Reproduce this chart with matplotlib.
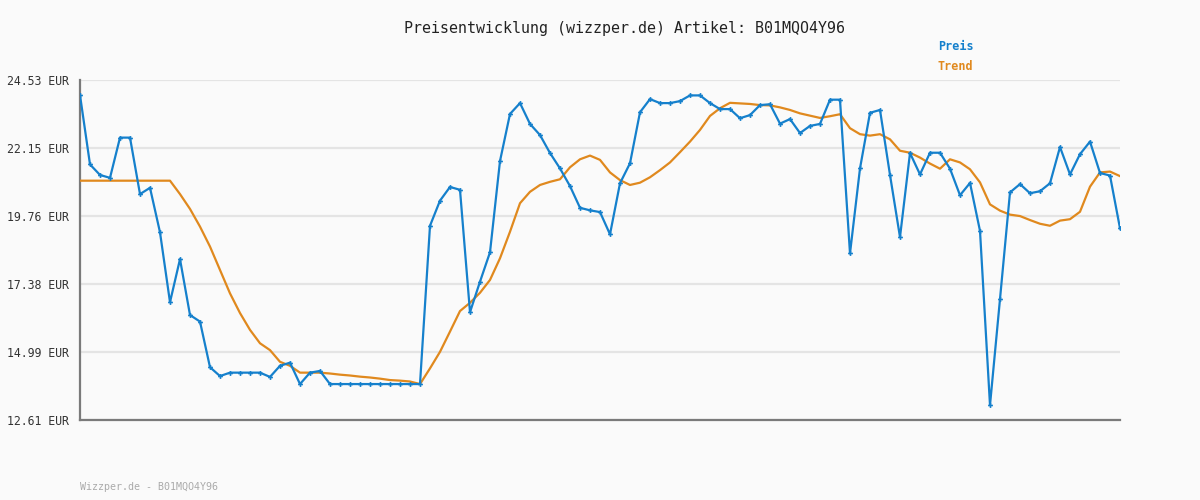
import matplotlib
matplotlib.use("Agg")
import matplotlib.pyplot as plt

# Preis (EUR), ein Wert pro Messpunkt
preis = [24.00, 21.57, 21.20, 21.10, 22.51, 22.51, 20.53, 20.75, 19.19, 16.74,
         18.25, 16.29, 16.06, 14.46, 14.15, 14.27, 14.27, 14.27, 14.27, 14.12,
         14.51, 14.62, 13.87, 14.27, 14.33, 13.87, 13.87, 13.87, 13.87, 13.87,
         13.87, 13.87, 13.87, 13.87, 13.87, 19.42, 20.30, 20.78, 20.68, 16.39,
         17.46, 18.49, 21.69, 23.34, 23.72, 22.99, 22.60, 21.97, 21.43, 20.81,
         20.05, 19.96, 19.90, 19.12, 20.91, 21.61, 23.40, 23.86, 23.72, 23.72,
         23.79, 23.99, 23.99, 23.72, 23.51, 23.51, 23.19, 23.30, 23.65, 23.68,
         23.00, 23.16, 22.67, 22.92, 22.99, 23.84, 23.84, 18.45, 21.43, 23.38,
         23.48, 21.20, 19.02, 21.97, 21.22, 21.98, 21.98, 21.42, 20.49, 20.92,
         19.24, 13.13, 16.85, 20.59, 20.88, 20.56, 20.63, 20.91, 22.18, 21.22,
         21.93, 22.37, 21.27, 21.18, 19.33]

trend = [21.00, 21.00, 21.00, 21.00, 21.00, 21.00, 21.00, 21.00, 21.00, 21.00,
         20.53, 20.01, 19.39, 18.69, 17.87, 17.05, 16.36, 15.77, 15.30, 15.06,
         14.65, 14.51, 14.27, 14.27, 14.27, 14.24, 14.20, 14.17, 14.13, 14.10,
         14.06, 14.01, 13.99, 13.96, 13.87, 14.42, 15.00, 15.71, 16.43, 16.72,
         17.07, 17.52, 18.28, 19.21, 20.21, 20.61, 20.85, 20.96, 21.05, 21.47,
         21.75, 21.88, 21.73, 21.29, 21.02, 20.85, 20.93, 21.12, 21.37, 21.64,
         22.00, 22.37, 22.78, 23.27, 23.54, 23.73, 23.71, 23.69, 23.65, 23.64,
         23.57, 23.48, 23.36, 23.28, 23.20, 23.26, 23.33, 22.84, 22.63, 22.58,
         22.63, 22.45, 22.05, 21.98, 21.81, 21.60, 21.42, 21.75, 21.64, 21.40,
         20.94, 20.17, 19.95, 19.81, 19.76, 19.62, 19.49, 19.42, 19.60, 19.65,
         19.91, 20.79, 21.29, 21.32, 21.16]

y_ticks = [12.61, 14.99, 17.38, 19.76, 22.15, 24.53]
artikel = "B01MQO4Y96"

blau = "#1580cc"
orange = "#e0891e"
mono = "DejaVu Sans Mono"

fig = plt.figure(figsize=(12, 5), dpi=100, facecolor="#fafafa")
ax = fig.add_axes([80 / 1200, 80 / 500, 1040 / 1200, 340 / 500])
ax.set_facecolor("#fafafa")

x = list(range(len(preis)))
ax.plot(x, trend, color=orange, lw=1.6, zorder=3)
ax.plot(x, preis, color=blau, lw=1.6, marker="P", ms=3.5, mew=0, zorder=4)

ax.set_xlim(0, len(preis) - 1)
ax.set_ylim(y_ticks[0], y_ticks[-1])
ax.set_yticks(y_ticks)
ax.set_yticklabels([f"{v:.2f} EUR" for v in y_ticks], family=mono,
                   fontsize=8.3, color="#333333")
ax.set_xticks([])
ax.tick_params(axis="y", length=0, pad=8)
ax.grid(axis="y", color="#e4e4e4", lw=1.6, zorder=0)
ax.set_axisbelow(True)
for s in ("top", "right"):
    ax.spines[s].set_visible(False)
for s in ("left", "bottom"):
    ax.spines[s].set_color("#7a7a7a")
    ax.spines[s].set_linewidth(1.6)

fig.text(624 / 1200, 1 - 28 / 500, f"Preisentwicklung (wizzper.de) Artikel: {artikel}",
         ha="center", va="center", family=mono, fontsize=10.8, color="#222222")
fig.text(938 / 1200, 1 - 46 / 500, "Preis", ha="left", va="center",
         family=mono, fontsize=8.5, color=blau, weight="bold")
fig.text(938 / 1200, 1 - 67 / 500, "Trend", ha="left", va="center",
         family=mono, fontsize=8.5, color=orange, weight="bold")
fig.text(80 / 1200, 1 - 487 / 500, f"Wizzper.de - {artikel}", ha="left", va="center",
         family=mono, fontsize=7.2, color="#aaaaaa")

fig.savefig("out.png", dpi=100, facecolor=fig.get_facecolor())
